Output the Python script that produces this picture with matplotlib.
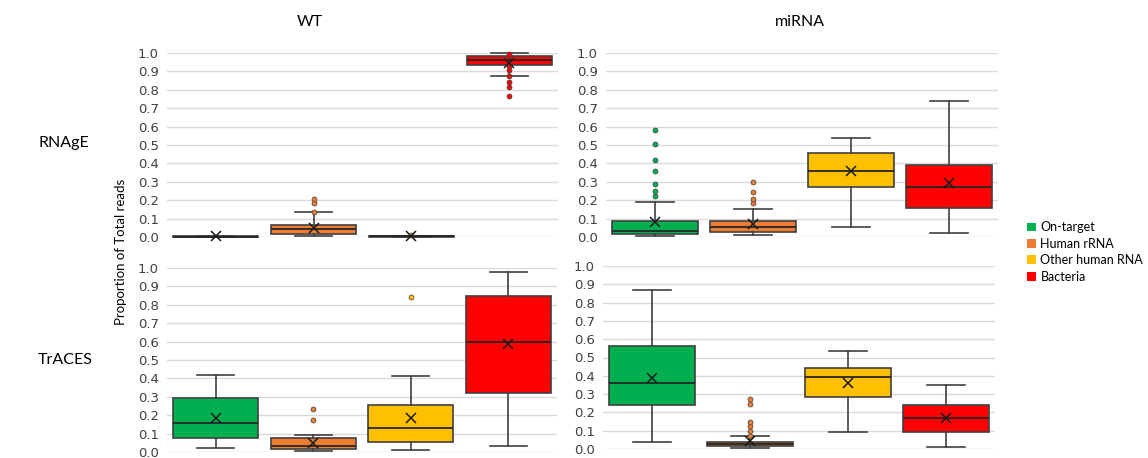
import matplotlib
matplotlib.use("Agg")
import matplotlib.pyplot as plt
from matplotlib.patches import Patch

categories = ["On-target", "Human rRNA", "Other human RNA", "Bacteria"]
colors = ["#00B050", "#ED7D31", "#FFC000", "#FF0000"]
columns = ["WT", "miRNA"]
rows = ["RNAgE", "TrACES"]

# Box statistics per panel: (whislo, q1, med, q3, whishi, mean, fliers)
wt_rnage = [
    (0.0, 0.0, 0.001, 0.003, 0.007, 0.004, []),
    (0.004, 0.018, 0.045, 0.065, 0.138, 0.049, [0.138, 0.183, 0.207]),
    (-0.002, 0.0, 0.003, 0.005, 0.007, 0.004, [0.009]),
    (0.877, 0.937, 0.96, 0.985, 0.998, 0.945, [0.995, 0.962, 0.93, 0.908, 0.877, 0.844, 0.813, 0.768]),
]
mirna_rnage = [
    (0.004, 0.018, 0.034, 0.085, 0.188, 0.08, [0.221, 0.252, 0.288, 0.36, 0.418, 0.505, 0.58]),
    (0.009, 0.029, 0.054, 0.085, 0.154, 0.071, [0.185, 0.208, 0.246, 0.299]),
    (0.054, 0.274, 0.36, 0.457, 0.536, 0.36, []),
    (0.022, 0.159, 0.274, 0.39, 0.741, 0.292, []),
]
wt_traces = [
    (0.022, 0.076, 0.158, 0.292, 0.418, 0.185, []),
    (0.004, 0.016, 0.031, 0.076, 0.09, 0.049, [0.174, 0.232]),
    (0.013, 0.056, 0.129, 0.255, 0.413, 0.185, [0.84]),
    (0.034, 0.321, 0.598, 0.85, 0.976, 0.587, []),
]
mirna_traces = [
    (0.038, 0.24, 0.361, 0.561, 0.867, 0.39, []),
    (0.005, 0.015, 0.027, 0.036, 0.069, 0.042, [0.07, 0.097, 0.125, 0.15, 0.245, 0.272]),
    (0.094, 0.283, 0.396, 0.441, 0.534, 0.358, []),
    (0.011, 0.094, 0.171, 0.241, 0.348, 0.171, []),
]
panels = [[wt_rnage, mirna_rnage], [wt_traces, mirna_traces]]

W, H = 1148, 458
fig = plt.figure(figsize=(W / 100, H / 100), dpi=100)

# axes rectangles in pixels: left, right, top(1.0), bottom(0.0)
rects = [[(167, 558, 53, 237), (606, 998, 53, 237)],
         [(167, 557, 268, 452), (603, 995, 266, 449)]]

edge = "#404040"
for r in range(2):
    for c in range(2):
        l, rr, t, b = rects[r][c]
        ax = fig.add_axes([l / W, 1 - b / H, (rr - l) / W, (b - t) / H])
        stats = []
        for (wl, q1, md, q3, wh, mn, fl) in panels[r][c]:
            stats.append(dict(whislo=wl, q1=q1, med=md, q3=q3, whishi=wh, mean=mn, fliers=fl))
        bp = ax.bxp(stats, positions=range(1, 5), widths=0.87, patch_artist=True,
                    showmeans=True, showfliers=True,
                    meanprops=dict(marker="x", markeredgecolor="#1a1a1a", markersize=7, markeredgewidth=1.1),
                    medianprops=dict(color="#262626", lw=1.3),
                    whiskerprops=dict(color="#404040", lw=1.2),
                    capprops=dict(color="#404040", lw=1.2),
                    boxprops=dict(edgecolor=edge, lw=1.2))
        for i, box in enumerate(bp["boxes"]):
            box.set_facecolor(colors[i])
        for i, fl in enumerate(bp["fliers"]):
            fl.set(marker="o", markerfacecolor=colors[i], markeredgecolor="#404040",
                   markersize=3.6, markeredgewidth=0.5)
        for key in bp:
            for art in bp[key]:
                art.set_clip_on(False)
        cap_w = 0.19
        for cap in bp["caps"]:
            xs = cap.get_xdata()
            mid = (xs[0] + xs[1]) / 2
            cap.set_xdata([mid - cap_w, mid + cap_w])
        ax.set_xlim(0.5, 4.5)
        ax.set_ylim(0, 1.0)
        ax.set_yticks([i / 10 for i in range(11)])
        ax.set_yticklabels([f"{i / 10:.1f}" for i in range(11)], fontsize=9.5, color="#404040")
        ax.set_xticks([])
        ax.tick_params(axis="y", length=0, pad=6)
        ax.grid(axis="y", color="#d9d9d9", lw=1)
        ax.set_axisbelow(True)
        for s in ax.spines.values():
            s.set_visible(False)

fam = "Lato"
fig.text(310 / W, 1 - 22 / H, columns[0], ha="center", va="center", fontsize=11.5, family=fam)
fig.text(800 / W, 1 - 22 / H, columns[1], ha="center", va="center", fontsize=11.5, family=fam)
fig.text(38 / W, 1 - 143 / H, rows[0], ha="left", va="center", fontsize=11.5, family=fam)
fig.text(38 / W, 1 - 360 / H, rows[1], ha="left", va="center", fontsize=11.5, family=fam)
fig.text(121 / W, 1 - 252 / H, "Proportion of Total reads", rotation=90, ha="center", va="center",
         fontsize=9.5, family=fam)

handles = [Patch(facecolor=col, edgecolor="none") for col in colors]
fig.legend(handles, categories, loc="center left", bbox_to_anchor=(1026 / W, 1 - 252 / H),
           frameon=False, handlelength=0.7, handleheight=0.7, handletextpad=0.35,
           borderpad=0.1, borderaxespad=0.0,
           labelspacing=0.35, prop=dict(family=fam, size=9))

fig.savefig("out.png", dpi=100)
